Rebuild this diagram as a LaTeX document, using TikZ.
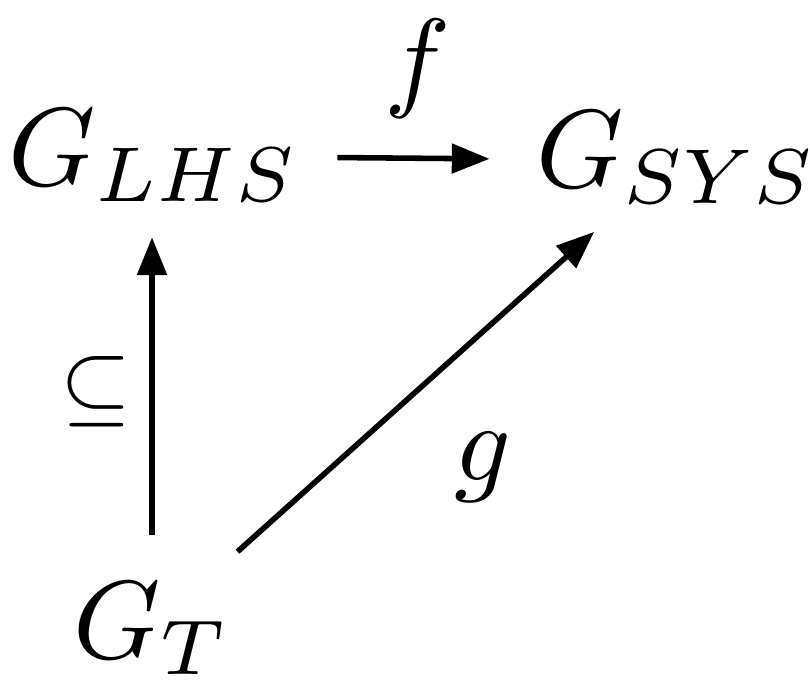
\documentclass[tikz,border=0pt]{standalone}
\usetikzlibrary{arrows.meta}
\begin{document}
\begin{tikzpicture}[x=0.09pt, y=-0.09pt,
  obj/.style={anchor=base west, inner sep=0pt},
  arr/.style={-{Triangle[length=3.4pt,width=2.6pt]}, line width=0.5pt}]
  \useasboundingbox (0,0) rectangle (810,680);
  % objects
  \node[obj] (lhs) at (6,185) {$G_{LHS}$};
  \node[obj] (sys) at (534,187) {$G_{SYS}$};
  \node[obj] (gt) at (71,658) {$G_T$};
  \coordinate (vx) at (152,0);
  % morphisms
  \draw[arr, shorten <=3.2pt, shorten >=4pt] ([yshift=2.5pt]lhs.base east) -- node[above] {$f$} ([yshift=2.5pt]sys.base west);
  \draw[arr, shorten <=4pt, shorten >=3pt] (gt.north -| vx) -- node[left, scale=0.82, inner sep=2pt] {$\subseteq$} (lhs.south -| vx);
  \draw[arr, shorten <=3.8pt, shorten >=3.5pt] (gt) -- node[below right] {$g$} (sys);
\end{tikzpicture}
\end{document}
